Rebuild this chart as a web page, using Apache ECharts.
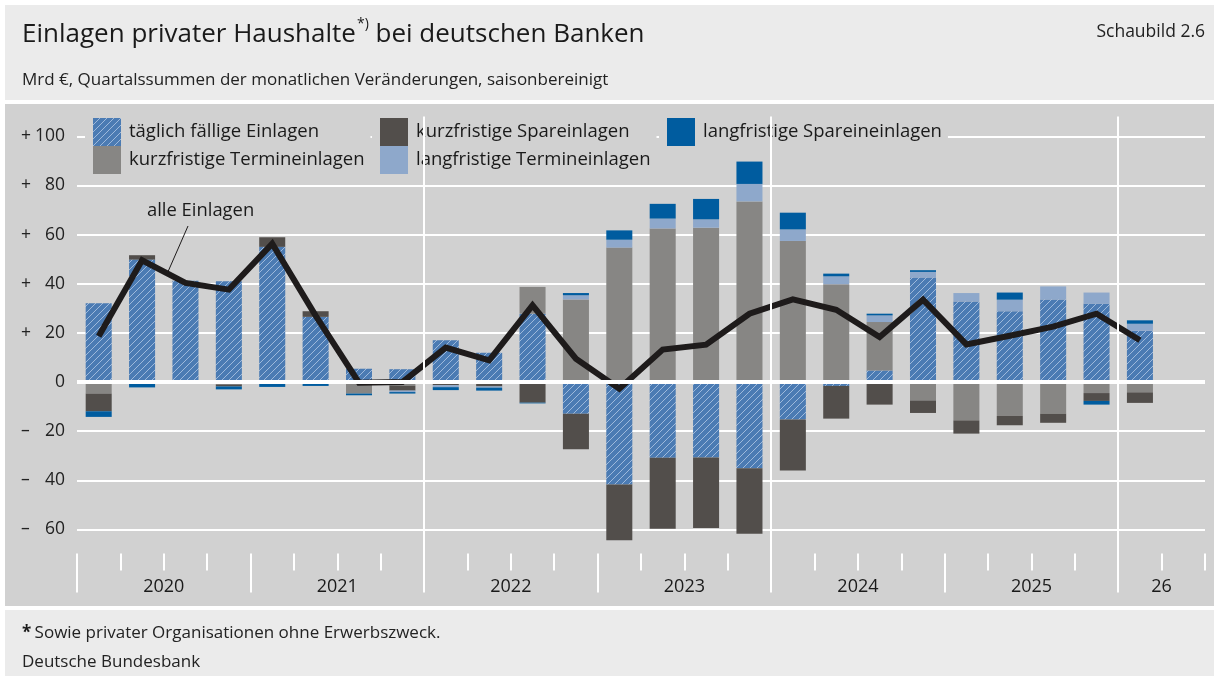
<!DOCTYPE html>
<html>
<head>
<meta charset="utf-8">
<script src="https://cdn.jsdelivr.net/npm/echarts@6.0.0/dist/echarts.min.js"></script>
<style>
  html, body { margin: 0; padding: 0; background: #fff; }
  #chart { width: 1219px; height: 676px; }
</style>
</head>
<body>
<div id="chart"></div>
<script>
// Quartale 2020 Q1 bis 2026 Q2 (letztes Quartal ohne Daten)
const quarters = [
  '2020 Q1', '2020 Q2', '2020 Q3', '2020 Q4',
  '2021 Q1', '2021 Q2', '2021 Q3', '2021 Q4',
  '2022 Q1', '2022 Q2', '2022 Q3', '2022 Q4',
  '2023 Q1', '2023 Q2', '2023 Q3', '2023 Q4',
  '2024 Q1', '2024 Q2', '2024 Q3', '2024 Q4',
  '2025 Q1', '2025 Q2', '2025 Q3', '2025 Q4',
  '2026 Q1', '2026 Q2'
]
const yearLabels = ['2020', '2021', '2022', '2023', '2024', '2025', '26']
const yearDividers = [8, 16, 24]

// Mrd €
const taeglich = [32, 49.8, 41.2, 41, 55, 26.5, 5.4, 5.2, 17, 11.9, 27.8, -12.9, -41.7, -30.8, -30.7, -35.1, -15.3, -1.6, 4.7, 42.5, 32.8, 28.8, 33.6, 31.8, 20.8]
const kurzTermin = [-4.7, 0, 0, -1, -0.8, -0.6, -4.7, -1.5, -0.8, 0, 10.9, 33.6, 54.7, 62.5, 62.8, 73.5, 57.4, 39.8, 19.7, -7.5, -15.6, -13.8, -12.9, -4.5, -4.2]
const kurzSpar = [-7.2, 1.8, 0, -0.8, 3.9, 2.3, 0, -2, -0.5, -1.8, -8.4, -14.5, -22.7, -28.9, -28.7, -26.7, -20.7, -13.3, -9.2, -5.1, -5.4, -3.8, -3.7, -3.2, -4.3]
const langTermin = [0, 0, -0.8, 0, 0, 0, 0, -0.6, -0.8, -0.5, 0, 1.7, 3.2, 4.0, 3.4, 7.1, 4.7, 3.2, 2.7, 2.3, 3.4, 4.7, 5.3, 4.6, 2.9]
const langSpar = [-2.3, -2.2, 0, -1.2, -1.2, -1, -0.7, -0.6, -1.2, -1.2, -0.3, 0.9, 3.8, 6.0, 8.3, 9.1, 6.8, 1.1, 0.7, 0.7, 0, 2.9, 0, -1.5, 1.4]
const alleEinlagen = [18.6, 49.5, 40.3, 37.6, 56.3, 27, -0.3, 0, 14, 8.8, 31.2, 9.5, -2.7, 13.2, 15.2, 27.8, 33.6, 29.4, 18.3, 33.5, 15.3, 18.8, 22.5, 27.8, 17.0]

const font = 'Open Sans'
const plotBg = '#d1d1d1'
const panelBg = '#ebebeb'
const textColor = '#1a1a1a'

// schraffiertes Blau fuer taeglich faellige Einlagen
function hatch() {
  const c = document.createElement('canvas')
  c.width = 7
  c.height = 7
  const g = c.getContext('2d')
  g.fillStyle = '#4b7bb3'
  g.fillRect(0, 0, 7, 7)
  g.strokeStyle = 'rgba(185,205,232,0.75)'
  g.lineWidth = 1
  g.beginPath()
  g.moveTo(0, 7); g.lineTo(7, 0)
  g.moveTo(-1, 1); g.lineTo(1, -1)
  g.moveTo(6, 8); g.lineTo(8, 6)
  g.stroke()
  return c
}

// Jahresstriche und Jahresbeschriftung (Position in Quartalen)
const yearTicks = yearLabels.map((y, i) => i * 4)
const yearLabelPos = yearLabels.map((y, i) => Math.min(i * 4 + 2, (i * 4 + quarters.length) / 2))

function barSeries(name, data, color) {
  return {
    name: name,
    type: 'bar',
    stack: 'all',
    barWidth: '60%',
    data: data,
    z: 2,
    itemStyle: { color: color },
    emphasis: { disabled: true }
  }
}

function legendBox(left, names) {
  return {
    orient: 'vertical',
    left: left,
    top: 118,
    icon: 'rect',
    itemWidth: 28,
    itemHeight: 28,
    itemGap: 0,
    selectedMode: false,
    backgroundColor: plotBg,
    padding: [0, 6, 0, 8],
    data: names,
    textStyle: { fontFamily: font, fontSize: 18.5, color: textColor, padding: [0, 0, 0, 3] }
  }
}

const chart = echarts.init(document.getElementById('chart'))

const option = {
  animation: false,
  backgroundColor: '#ffffff',
  textStyle: { fontFamily: font },
  grid: { left: 77, right: 14, top: 116.6, bottom: 97.4, outerBoundsMode: 'none' },
  legend: [
    legendBox(85, ['täglich fällige Einlagen', 'kurzfristige Termineinlagen']),
    legendBox(372, ['kurzfristige Spareinlagen', 'langfristige Termineinlagen']),
    legendBox(659, ['langfristige Spareineinlagen'])
  ],
  xAxis: [
    {
      type: 'category',
      data: quarters,
      position: 'bottom',
      offset: -25,
      boundaryGap: true,
      axisLine: { show: false, onZero: false },
      axisTick: { show: true, interval: 0, length: 17, lineStyle: { color: '#fff', width: 2 } },
      axisLabel: { show: false },
      splitLine: { show: false }
    },
    {
      type: 'value',
      min: 0,
      max: quarters.length,
      position: 'bottom',
      offset: -25,
      axisLine: { show: false, onZero: false },
      axisTick: { show: true, customValues: yearTicks, length: 39, lineStyle: { color: '#fff', width: 2 } },
      axisLabel: {
        customValues: yearLabelPos,
        margin: 24,
        fontFamily: font,
        fontSize: 18,
        color: textColor,
        formatter: v => yearLabels[yearLabelPos.indexOf(v)] || ''
      },
      splitLine: { show: false }
    }
  ],
  yAxis: {
    type: 'value',
    min: -80,
    max: 108,
    interval: 20,
    axisLine: { show: false },
    axisTick: { show: false },
    splitLine: { show: true, showMinLine: false, showMaxLine: false, lineStyle: { color: '#fff', width: 2 } },
    axisLabel: {
      margin: 12,
      color: '#222',
      fontFamily: font,
      fontSize: 17.5,
      formatter: function (v) {
        if (v < -60 || v > 100) return ''
        if (v === 0) return '{n|0}'
        return '{s|' + (v > 0 ? '+' : '–') + '}{n|' + Math.abs(v) + '}'
      },
      rich: {
        s: { width: 13, align: 'left', fontFamily: font, fontSize: 17.5, color: '#222' },
        n: { width: 31, align: 'right', fontFamily: font, fontSize: 17.5, color: '#222' }
      }
    }
  },
  series: [
    barSeries('täglich fällige Einlagen', taeglich, { image: hatch(), repeat: 'repeat' }),
    barSeries('kurzfristige Termineinlagen', kurzTermin, '#878684'),
    barSeries('kurzfristige Spareinlagen', kurzSpar, '#524e4b'),
    barSeries('langfristige Termineinlagen', langTermin, '#8ea8cb'),
    barSeries('langfristige Spareineinlagen', langSpar, '#005c9f'),
    {
      // Null-Linie und Jahrestrenner
      type: 'line',
      xAxisIndex: 1,
      data: [],
      z: 3,
      silent: true,
      markLine: {
        silent: true,
        symbol: 'none',
        label: { show: false },
        emphasis: { disabled: true },
        data: yearDividers.map(d => ({ xAxis: d, lineStyle: { color: '#fff', width: 2, type: 'solid' } }))
          .concat([{ yAxis: 0, lineStyle: { color: '#fff', width: 4, type: 'solid' } }])
      }
    },
    {
      name: 'alle Einlagen',
      type: 'line',
      data: alleEinlagen,
      z: 4,
      symbol: 'none',
      silent: true,
      lineStyle: { color: '#1e1b1b', width: 6, join: 'miter' }
    }
  ]
}

chart.setOption(option)

// Hinweislinie zu "alle Einlagen" auf die Linie zwischen Q2 und Q3 2020
const p1 = chart.convertToPixel({ xAxisIndex: 0, yAxisIndex: 0 }, [1, alleEinlagen[1]])
const p2 = chart.convertToPixel({ xAxisIndex: 0, yAxisIndex: 0 }, [2, alleEinlagen[2]])
const t = 0.58
const tip = [p1[0] + (p2[0] - p1[0]) * t, p1[1] + (p2[1] - p1[1]) * t]

chart.setOption({
  graphic: [
    { type: 'rect', z: -100, silent: true, shape: { x: 5, y: 5, width: 1209, height: 95 }, style: { fill: panelBg } },
    { type: 'rect', z: -100, silent: true, shape: { x: 5, y: 104, width: 1209, height: 502 }, style: { fill: plotBg } },
    { type: 'rect', z: -100, silent: true, shape: { x: 5, y: 610, width: 1209, height: 70 }, style: { fill: panelBg } },
    {
      type: 'text', left: 22, top: 17, silent: true,
      style: {
        text: '{a|Einlagen privater Haushalte}{s|*)}{a| bei deutschen Banken}',
        rich: {
          a: { fontFamily: font, fontSize: 26, fill: textColor, lineHeight: 36 },
          s: { fontFamily: font, fontSize: 14, fill: textColor, verticalAlign: 'top', lineHeight: 36, padding: [0, 0, 12, 1] }
        }
      }
    },
    {
      type: 'text', right: 14, top: 23, silent: true,
      style: { text: 'Schaubild 2.6', fontFamily: font, fontSize: 17.5, fill: '#222' }
    },
    {
      type: 'text', left: 22, top: 71.5, silent: true,
      style: { text: 'Mrd €, Quartalssummen der monatlichen Veränderungen, saisonbereinigt', fontFamily: font, fontSize: 17, fill: '#222' }
    },
    {
      type: 'text', left: 147, top: 202, silent: true, z: 10,
      style: { text: 'alle Einlagen', fontFamily: font, fontSize: 18.4, fill: textColor }
    },
    {
      type: 'line', silent: true, z: 3,
      shape: { x1: 188, y1: 226, x2: tip[0], y2: tip[1] },
      style: { stroke: '#1e1b1b', lineWidth: 1 }
    },
    {
      type: 'text', left: 22, top: 625, silent: true,
      style: {
        text: '{b|*} {r|Sowie privater Organisationen ohne Erwerbszweck.}',
        rich: {
          b: { fontFamily: font, fontSize: 17, fontWeight: 'bold', fill: textColor },
          r: { fontFamily: font, fontSize: 17, fill: '#222' }
        }
      }
    },
    {
      type: 'text', left: 22, top: 654, silent: true,
      style: { text: 'Deutsche Bundesbank', fontFamily: font, fontSize: 17, fill: '#222' }
    }
  ]
})
</script>
</body>
</html>
